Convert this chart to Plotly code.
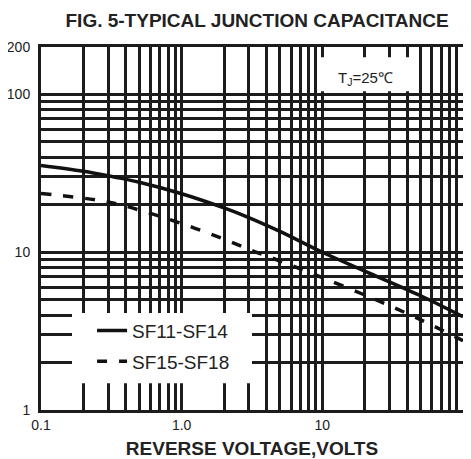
import plotly.graph_objects as go

# ---- data ----
voltage_a = [0.1, 0.2, 0.33, 0.5, 1.0, 2.0, 3.0, 5.0, 10.0, 20.0, 50.0, 100.0]
cap_sf11_sf14 = [35.5, 32.6, 30.0, 27.8, 23.5, 19.1, 16.6, 13.55, 10.0, 7.6, 5.3, 3.9]

voltage_b = [0.1, 0.27, 0.4, 1.0, 2.2, 3.3, 5.0, 10.0, 24.0, 51.0, 100.0]
cap_sf15_sf18 = [23.6, 21.2, 19.6, 15.2, 11.7, 10.1, 8.8, 6.9, 5.0, 3.7, 2.75]

series_names = ["SF11-SF14", "SF15-SF18"]

x_tickvals = [0.1, 1, 10, 100]
x_ticktext = ["0.1", "1.0", "10", "100"]
x_minor = [0.2, 0.3, 0.4, 0.5, 0.6, 0.7, 0.8, 0.9,
           2, 3, 4, 5, 6, 7, 8, 9,
           20, 30, 40, 50, 60, 70, 80, 90]

y_tickvals = [1, 10, 100, 200]
y_ticktext = ["1", "10", "100", "200"]
y_minor = [2, 3, 4, 5, 6, 7, 8, 9, 20, 30, 40, 50, 60, 70, 80, 90]

title_text = "FIG. 5-TYPICAL JUNCTION CAPACITANCE"
xaxis_title = "REVERSE VOLTAGE,VOLTS"
note_text = "T<sub>J</sub>=25℃"

# ---- figure ----
FONT = "Liberation Sans, Arial, sans-serif"
GRID = "#1c1c1c"
INK = "#222222"

fig = go.Figure()
fig.add_trace(go.Scatter(
    x=voltage_a, y=cap_sf11_sf14, mode="lines", name=series_names[0],
    line=dict(color="#111111", width=3.5, shape="spline", smoothing=1.0),
    legendgroup="a"))
fig.add_trace(go.Scatter(
    x=voltage_b, y=cap_sf15_sf18, mode="lines", name=series_names[1],
    line=dict(color="#111111", width=3.5, dash="10px,12px", shape="spline", smoothing=1.0),
    legendgroup="b"))

axis_common = dict(
    type="log", showgrid=True, gridcolor=GRID, gridwidth=2.5,
    showline=True, mirror=True, linecolor=GRID, linewidth=3,
    ticks="", zeroline=False, automargin=False,
    tickfont=dict(family=FONT, size=14, color=INK),
)

fig.update_xaxes(
    **axis_common,
    range=[-1, 2],
    tickmode="array", tickvals=x_tickvals, ticktext=x_ticktext,
    minor=dict(tickmode="array", tickvals=x_minor, showgrid=True,
               gridcolor=GRID, gridwidth=2.5, ticks=""),
    title=dict(text="<b>" + xaxis_title + "</b>",
               font=dict(family=FONT, size=19, color=INK), standoff=10),
)
fig.update_yaxes(
    **axis_common,
    range=[0, 2.30103],
    tickmode="array", tickvals=y_tickvals, ticktext=y_ticktext,
    minor=dict(tickmode="array", tickvals=y_minor, showgrid=True,
               gridcolor=GRID, gridwidth=2.5, ticks=""),
    ticklabelstandoff=5,
)

# white boxes behind legend and temperature note (cover grid)
fig.add_shape(type="rect", xref="paper", yref="paper",
              x0=0.0735, x1=0.5, y0=0.074, y1=0.267,
              fillcolor="white", line=dict(width=0), layer="above")
fig.add_shape(type="rect", xref="paper", yref="paper",
              x0=0.656, x1=0.879, y0=0.878, y1=0.972,
              fillcolor="white", line=dict(width=0), layer="above")

fig.add_annotation(text=note_text, xref="paper", yref="paper",
                   x=0.77, y=0.914, xanchor="center", yanchor="middle",
                   showarrow=False,
                   font=dict(family=FONT, size=15, color=INK))

fig.update_layout(
    width=463, height=451,
    margin=dict(l=33, r=8, t=39, b=49, autoexpand=False),
    paper_bgcolor="white", plot_bgcolor="white",
    title=dict(text="<b>" + title_text + "</b>", xref="container", yref="container",
               x=0.538, y=0.972, xanchor="center", yanchor="middle",
               font=dict(family=FONT, size=19, color=INK)),
    showlegend=True,
    legend=dict(x=0.121, y=0.271, xanchor="left", yanchor="top",
                bgcolor="rgba(0,0,0,0)", borderwidth=0,
                font=dict(family=FONT, size=19, color=INK),
                tracegroupgap=3, traceorder="grouped"),
)

fig.write_html("out.html")
